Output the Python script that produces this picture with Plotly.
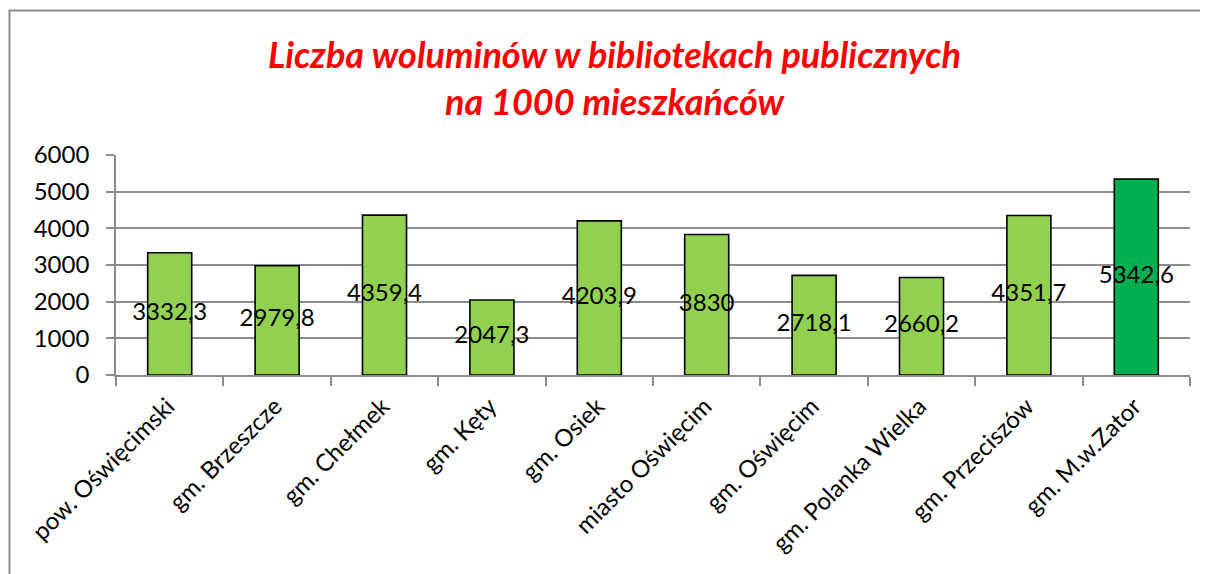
import plotly.graph_objects as go

categories = ["pow. Oświęcimski", "gm. Brzeszcze", "gm. Chełmek", "gm. Kęty", "gm. Osiek",
              "miasto Oświęcim", "gm. Oświęcim", "gm. Polanka Wielka", "gm. Przeciszów", "gm. M.w.Zator"]
values = [3332.3, 2979.8, 4359.4, 2047.3, 4203.9, 3830, 2718.1, 2660.2, 4351.7, 5342.6]
value_labels = ["3332,3", "2979,8", "4359,4", "2047,3", "4203,9", "3830", "2718,1", "2660,2", "4351,7", "5342,6"]
bar_colors = ["#92D050"] * 9 + ["#00B050"]
y_ticks = [0, 1000, 2000, 3000, 4000, 5000, 6000]

FONT = "Lato"
GRID = "#8C8C8C"
OFF = 8  # page body margin
W, H = 1208 - OFF, 574 - OFF
L, R, T, B = 116 - OFF, 1190 - OFF, 155 - OFF, 375 - OFF
PW, PH = R - L, B - T

fig = go.Figure()
fig.add_trace(go.Bar(
    x=categories, y=values, width=0.41,
    marker=dict(color=bar_colors, line=dict(color="#000000", width=1.6)),
    hoverinfo="skip", showlegend=False,
))
fig.add_trace(go.Scatter(
    x=categories, y=[v / 2 for v in values], mode="text", text=value_labels,
    textfont=dict(family=FONT, size=24, color="#000000"),
    textposition="middle center", showlegend=False, hoverinfo="skip",
))

fig.update_layout(
    width=W, height=H,
    margin=dict(l=L, r=W - R, t=T, b=H - B),
    paper_bgcolor="white", plot_bgcolor="white",
    bargap=0.59,
    xaxis=dict(
        type="category", tickangle=-45, automargin=False,
        tickfont=dict(family=FONT, size=24, color="#000000"),
        showline=True, linecolor=GRID, linewidth=1.6,
        ticks="outside", tickson="boundaries", ticklen=9, tickcolor=GRID, tickwidth=1.6,
        showgrid=False, range=[-0.5, 9.5], ticklabelstandoff=6, ticklabelshift=-2,
    ),
    yaxis=dict(
        range=[0, 6000], tickvals=y_ticks, ticktext=[str(t) for t in y_ticks], automargin=False,
        tickfont=dict(family=FONT, size=24, color="#000000"),
        showgrid=True, gridcolor=GRID, gridwidth=1.6,
        showline=True, linecolor=GRID, linewidth=1.6,
        ticks="outside", ticklen=8, tickcolor=GRID, tickwidth=1.6,
        zeroline=False, ticklabelstandoff=12,
    ),
    annotations=[dict(
        text="<b><i>Liczba woluminów w bibliotekach publicznych<br>na 1000 mieszkańców</i></b>",
        font=dict(family=FONT, size=36, color="#FF0000"),
        xref="paper", yref="paper", x=(614 - OFF - L) / PW, y=(B - (77 - OFF)) / PH,
        xanchor="center", yanchor="middle", showarrow=False, align="center",
    )],
    shapes=[dict(
        type="rect", xref="paper", yref="paper",
        x0=(9.5 - OFF - L) / PW, x1=(1215 - OFF - L) / PW,
        y0=(B - (585 - OFF)) / PH, y1=(B - (10.5 - OFF)) / PH,
        line=dict(color="#8C8C8C", width=2), fillcolor="rgba(0,0,0,0)", layer="below",
    )],
)

fig.write_html("out.html")
